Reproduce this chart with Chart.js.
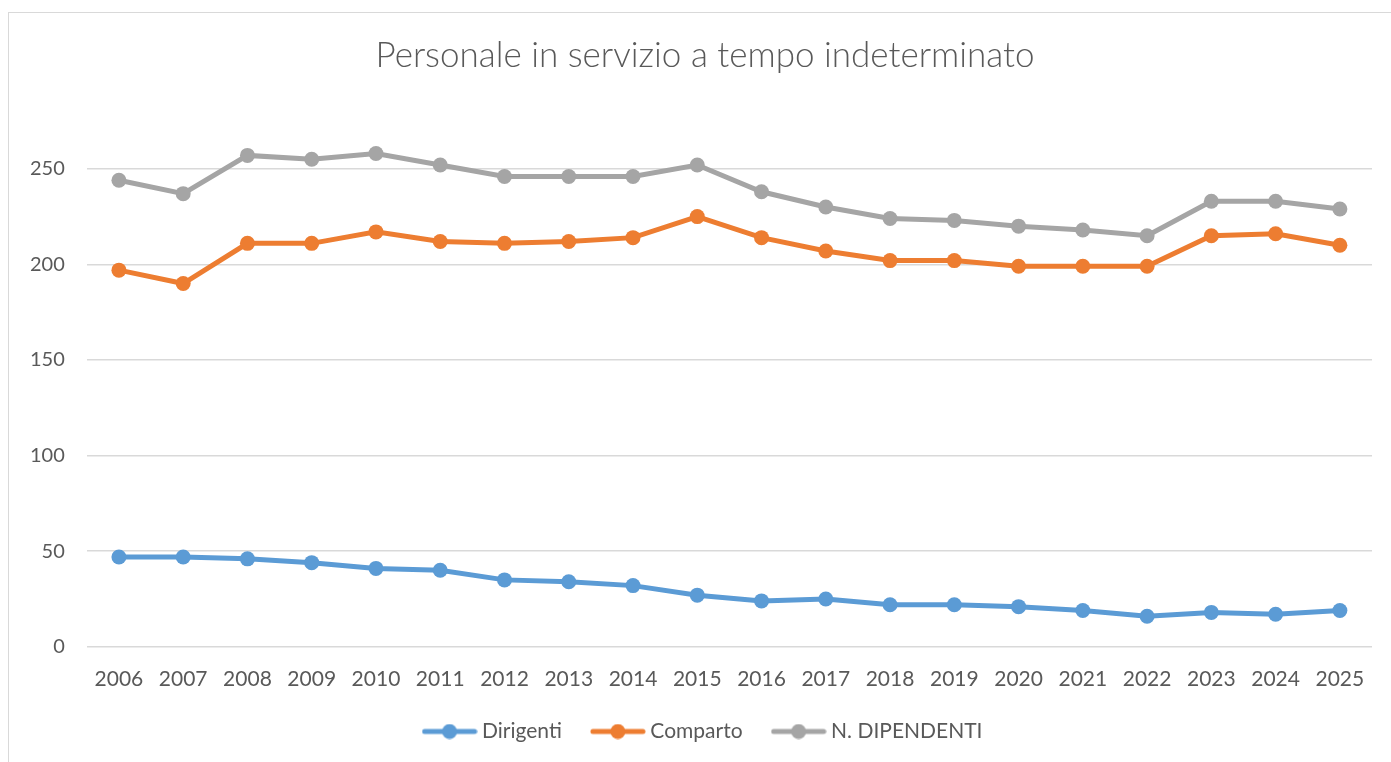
<!DOCTYPE html>
<html>
<head>
<meta charset="utf-8">
<script src="https://cdn.jsdelivr.net/npm/chart.js@4"></script>
<style>
    body { margin: 0; background: #fff; }
    #frame { position: absolute; left: 8px; top: 12px; width: 1400px; height: 770px; border-left: 1px solid #d9d9d9; border-top: 1px solid #d9d9d9; }
    #chart { position: absolute; left: 0; top: 0; }
</style>
</head>
<body>
<div id="frame"></div>
<canvas id="chart" width="1391" height="762"></canvas>
<script>
// dati
const anni = ['2006','2007','2008','2009','2010','2011','2012','2013','2014','2015','2016','2017','2018','2019','2020','2021','2022','2023','2024','2025'];
const dirigenti = [47, 47, 46, 44, 41, 40, 35, 34, 32, 27, 24, 25, 22, 22, 21, 19, 16, 18, 17, 19];
const comparto = [197, 190, 211, 211, 217, 212, 211, 212, 214, 225, 214, 207, 202, 202, 199, 199, 199, 215, 216, 210];
const dipendenti = [244, 237, 257, 255, 258, 252, 246, 246, 246, 252, 238, 230, 224, 223, 220, 218, 215, 233, 233, 229];
const yTicks = [0, 50, 100, 150, 200, 250];

const colori = ['#5B9BD5', '#ED7D31', '#A5A5A5'];
const nomi = ['Dirigenti', 'Comparto', 'N. DIPENDENTI'];
const serie = [dirigenti, comparto, dipendenti];
const FONT = 'Lato, "Open Sans", sans-serif';
const GREY_TXT = '#595959';

// marker della legenda: linea con pallino
function legendMarker(col) {
    const c = document.createElement('canvas');
    c.width = 56; c.height = 16;
    const g = c.getContext('2d');
    g.strokeStyle = col; g.lineWidth = 5; g.lineCap = 'round';
    g.beginPath(); g.moveTo(3, 8); g.lineTo(53, 8); g.stroke();
    g.fillStyle = col;
    g.beginPath(); g.arc(28, 8, 7.5, 0, Math.PI * 2); g.fill();
    return c;
}
const markers = colori.map(legendMarker);

// le etichette dell'asse Y escono un po' a sinistra del box: niente clip
const noLabelClip = {
    id: 'noLabelClip',
    beforeDraw(chart) { chart.scales.y._computeLabelArea = () => undefined; }
};

new Chart(document.getElementById('chart'), {
    type: 'line',
    data: {
        labels: anni,
        datasets: serie.map((d, i) => ({
            label: nomi[i],
            data: d,
            borderColor: colori[i],
            backgroundColor: colori[i],
            borderWidth: 5,
            pointRadius: 7.5,
            pointBorderWidth: 0,
            tension: 0
        }))
    },
    plugins: [noLabelClip],
    options: {
        responsive: false,
        animation: false,
        layout: { padding: { left: 38, right: 19, top: 0, bottom: 10 } },
        plugins: {
            title: {
                display: true,
                text: 'Personale in servizio a tempo indeterminato',
                color: GREY_TXT,
                font: { family: FONT, size: 35, weight: '300' },
                padding: { top: 35, bottom: 44 }
            },
            legend: {
                position: 'bottom',
                labels: {
                    usePointStyle: true,
                    pointStyleWidth: 44,
                    boxHeight: 16,
                    padding: 34,
                    color: GREY_TXT,
                    font: { family: FONT, size: 21 },
                    generateLabels: (chart) => chart.data.datasets.map((ds, i) => ({
                        text: ds.label,
                        pointStyle: markers[i],
                        fontColor: GREY_TXT,
                        strokeStyle: colori[i],
                        fillStyle: colori[i],
                        lineWidth: 0,
                        datasetIndex: i
                    }))
                }
            },
            tooltip: { enabled: false }
        },
        scales: {
            x: {
                offset: true,
                grid: { display: false },
                border: { display: false },
                ticks: { color: GREY_TXT, font: { family: FONT, size: 21 }, padding: 12, maxRotation: 0 },
                afterFit: (axis) => { axis.height -= 17; }
            },
            y: {
                min: 0,
                max: 275,
                grid: { color: '#d9d9d9', lineWidth: 1.5, drawTicks: false },
                border: { display: false },
                afterBuildTicks: (scale) => { scale.ticks = yTicks.map(v => ({ value: v })); },
                ticks: { color: GREY_TXT, font: { family: FONT, size: 20 }, padding: 22 },
                afterFit: (axis) => { axis.width -= 30; }
            }
        }
    }
});
</script>
</body>
</html>
